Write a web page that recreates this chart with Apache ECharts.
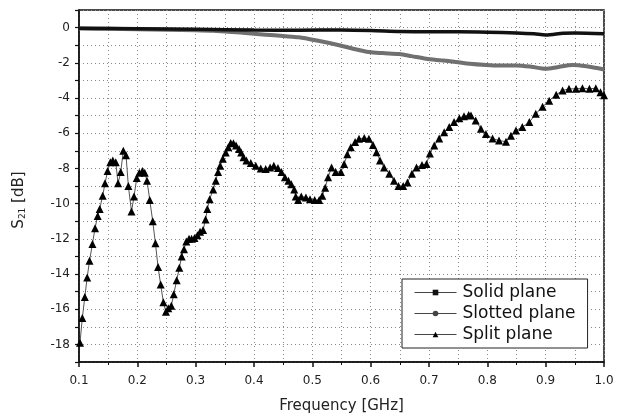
<!DOCTYPE html>
<html>
<head>
<meta charset="utf-8">
<script src="https://cdn.jsdelivr.net/npm/echarts@6/dist/echarts.min.js"></script>
<style>html,body{margin:0;padding:0;background:#fff;}#c{width:626px;height:419px;}</style>
</head>
<body>
<div id="c"></div>
<script>
var solidFreq = [0.1,0.2,0.3,0.4,0.477,0.55,0.6,0.65,0.7,0.75,0.8,0.85,0.88,0.9,0.93,0.95,1.0];
var solidVal  = [-0.03,-0.06,-0.1,-0.14,-0.15,-0.13,-0.16,-0.22,-0.24,-0.24,-0.26,-0.3,-0.35,-0.42,-0.32,-0.3,-0.35];

var slottedFreq = [0.1,0.15,0.2,0.25,0.3,0.33,0.363,0.39,0.42,0.45,0.477,0.51,0.546,0.57,0.597,0.62,0.649,0.67,0.695,0.72,0.746,0.77,0.798,0.82,0.849,0.875,0.9,0.92,0.946,0.97,1.0];
var slottedVal  = [-0.05,-0.07,-0.1,-0.12,-0.15,-0.18,-0.25,-0.32,-0.4,-0.48,-0.55,-0.75,-1.0,-1.2,-1.39,-1.45,-1.5,-1.62,-1.77,-1.86,-1.95,-2.05,-2.12,-2.15,-2.15,-2.22,-2.34,-2.25,-2.12,-2.2,-2.38];

var splitFreq = [0.1017,0.1057,0.110,0.114,0.118,0.123,0.1275,0.132,0.1355,0.1406,0.1446,0.149,0.1537,0.158,0.163,0.167,0.1715,0.176,0.1806,0.1846,0.190,0.1943,0.199,0.2034,0.2086,0.2127,0.2166,0.2213,0.2264,0.231,0.2355,0.240,0.2446,0.249,0.253,0.2583,0.2624,0.2675,0.272,0.276,0.280,0.284,0.2887,0.293,0.298,0.303,0.3075,0.3127,0.317,0.320,0.324,0.330,0.3345,0.3384,0.342,0.3465,0.3516,0.356,0.360,0.3647,0.3693,0.3744,0.378,0.382,0.387,0.3945,0.403,0.4116,0.420,0.4276,0.434,0.441,0.447,0.453,0.459,0.464,0.469,0.4716,0.4756,0.481,0.489,0.496,0.504,0.5117,0.517,0.522,0.527,0.533,0.540,0.549,0.5545,0.560,0.566,0.5734,0.580,0.589,0.597,0.604,0.610,0.616,0.623,0.632,0.640,0.6477,0.6557,0.663,0.6707,0.6786,0.688,0.6957,0.7015,0.709,0.7175,0.726,0.7347,0.743,0.752,0.760,0.768,0.772,0.780,0.789,0.7976,0.809,0.820,0.832,0.8405,0.849,0.860,0.872,0.883,0.8947,0.906,0.918,0.929,0.940,0.952,0.963,0.975,0.986,0.994,1.0];
var splitVal  = [-17.9,-16.5,-15.3,-14.2,-13.25,-12.3,-11.4,-10.7,-10.3,-9.55,-8.85,-8.15,-7.65,-7.55,-7.65,-8.85,-8.2,-7.0,-7.25,-9.0,-10.45,-9.6,-8.55,-8.25,-8.15,-8.25,-8.7,-9.8,-11.0,-12.25,-13.6,-14.6,-15.6,-16.15,-15.95,-15.8,-15.15,-14.35,-13.65,-13.0,-12.6,-12.15,-12.0,-12.0,-11.95,-11.8,-11.6,-11.5,-10.9,-10.3,-9.75,-9.2,-8.7,-8.2,-7.85,-7.45,-7.1,-6.8,-6.55,-6.57,-6.7,-6.9,-7.1,-7.37,-7.55,-7.7,-7.85,-8.0,-8.03,-7.95,-7.85,-7.98,-8.2,-8.5,-8.7,-8.9,-9.2,-9.6,-9.8,-9.6,-9.65,-9.75,-9.8,-9.8,-9.55,-9.1,-8.5,-7.95,-8.2,-8.2,-7.75,-7.2,-6.8,-6.5,-6.32,-6.27,-6.32,-6.67,-7.08,-7.55,-7.95,-8.3,-8.7,-9.0,-9.0,-8.8,-8.3,-7.95,-7.8,-7.75,-7.15,-6.7,-6.3,-5.95,-5.65,-5.37,-5.15,-5.03,-4.97,-5.0,-5.28,-5.75,-6.05,-6.3,-6.42,-6.48,-6.15,-5.85,-5.65,-5.37,-4.9,-4.5,-4.15,-3.82,-3.57,-3.48,-3.48,-3.44,-3.48,-3.44,-3.67,-3.85];

var seriesNames = ['Solid plane','Slotted plane','Split plane'];
var xTitle = 'Frequency [GHz]';

function zip(a, b) { return a.map(function (v, i) { return [v, b[i]]; }); }

var FONT = 'DejaVu Sans';
var GRID = {color: '#888', type: [1, 3], width: 1};
var chart = echarts.init(document.getElementById('c'), null, {renderer: 'canvas'});
chart.setOption({
  backgroundColor: '#fff',
  animation: false,
  grid: {left: 79, right: 22, top: 10, bottom: 56, show: true, borderColor: '#111', borderWidth: 1.5},
  legend: {
    data: seriesNames,
    orient: 'vertical',
    left: 402, top: 279,
    padding: [5, 12, 5, 12],
    itemGap: 4,
    itemWidth: 42,
    itemHeight: 7,
    borderColor: '#222', borderWidth: 1,
    backgroundColor: '#fff',
    lineStyle: {width: 1, color: '#444'},
    textStyle: {fontFamily: FONT, fontSize: 17, color: '#111', padding: [0, 0, 0, 1]}
  },
  xAxis: {
    type: 'value', min: 0.1, max: 1.0, interval: 0.1,
    name: xTitle, nameLocation: 'middle', nameGap: 37,
    nameTextStyle: {fontFamily: FONT, fontSize: 15, color: '#222'},
    axisLine: {onZero: false, lineStyle: {color: '#111', width: 1.5}},
    axisTick: {inside: false, length: 5, lineStyle: {color: '#111', width: 1.5}},
    minorTick: {show: true, splitNumber: 2, length: 3, lineStyle: {color: '#111', width: 1}},
    axisLabel: {fontFamily: FONT, fontSize: 12, color: '#222', margin: 13,
      formatter: function (v) { return v.toFixed(1); }},
    splitLine: {show: true, lineStyle: GRID},
    minorSplitLine: {show: true, lineStyle: GRID}
  },
  yAxis: {
    type: 'value', min: -19, max: 1, interval: 1,
    name: '{s|S}{sub|21}{s| [dB]}', nameLocation: 'middle', nameGap: 52,
    nameRotate: 90,
    nameTextStyle: {
      padding: [0, 28, 0, 0],
      rich: {
        s: {fontFamily: FONT, fontSize: 15, color: '#222'},
        sub: {fontFamily: FONT, fontSize: 9, color: '#222', verticalAlign: 'bottom', padding: [6, 0, 0, 0]}
      }
    },
    axisLine: {onZero: false, lineStyle: {color: '#111', width: 1.5}},
    axisTick: {inside: false, length: 4, lineStyle: {color: '#111', width: 1.2}},
    axisLabel: {fontFamily: FONT, fontSize: 12, color: '#222', margin: 9,
      formatter: function (v) { var r = Math.round(v); return (r % 2 === 0) ? String(r) : ''; }},
    splitLine: {show: true, lineStyle: GRID}
  },
  series: [
    {
      name: seriesNames[0], type: 'line', data: zip(solidFreq, solidVal),
      symbol: 'rect', symbolSize: 5, showSymbol: false, smooth: 0.3,
      lineStyle: {color: '#111', width: 3.5},
      itemStyle: {color: '#111'}, z: 4
    },
    {
      name: seriesNames[1], type: 'line', data: zip(slottedFreq, slottedVal),
      symbol: 'circle', symbolSize: 5, showSymbol: false, smooth: 0.3,
      lineStyle: {color: '#707070', width: 4},
      itemStyle: {color: '#444'}, z: 3
    },
    {
      name: seriesNames[2], type: 'line', data: zip(splitFreq, splitVal),
      symbol: 'triangle', symbolSize: 8, showSymbol: true,
      lineStyle: {color: '#555', width: 1},
      itemStyle: {color: '#000'}, z: 5
    }
  ]
});
</script>
</body>
</html>
